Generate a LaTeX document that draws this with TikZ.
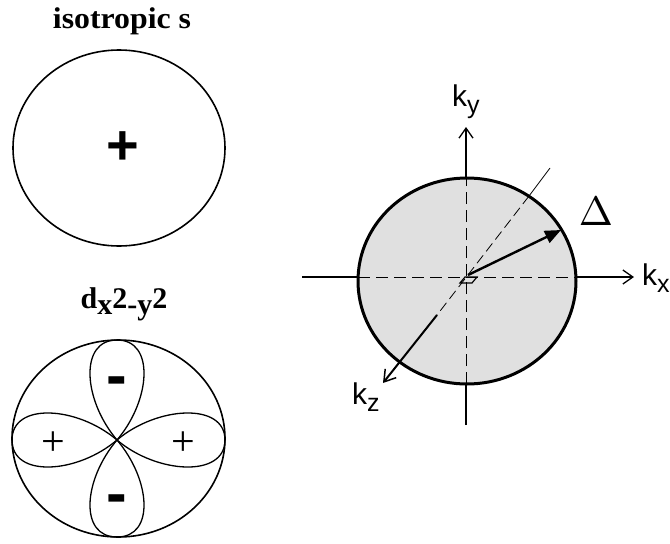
\documentclass[tikz,border=0pt]{standalone}
\usepackage{fontspec}
\setmainfont{Liberation Serif}
\newfontfamily\sansf{Liberation Sans}
\usetikzlibrary{arrows.meta,calc}
\begin{document}
\begin{tikzpicture}[x=1pt,y=-1pt,
  titletext/.style={font=\fontsize{30}{32}\selectfont\bfseries, inner sep=0pt, anchor=base},
  orbit/.style={line width=1.6pt},
  lobe/.style={line width=1.3pt},
  klabel/.style={font=\sansf\fontsize{30}{30}\selectfont, inner sep=0pt, anchor=base west},
  axisline/.style={line width=1.3pt},
  dashpart/.style={line width=0.9pt, dash pattern=on 12pt off 6pt},
  barb/.style={-{Straight Barb[length=10pt,width=14pt,line width=1.3pt]}},
  sgnplus/.style={font=\fontsize{42}{42}\selectfont, inner sep=0pt},
  sgnminus/.style={font=\sansf\bfseries\fontsize{62}{62}\selectfont, inner sep=0pt}
]
\useasboundingbox (0,0) rectangle (670,544);

% ---------- isotropic s ----------
\node[titletext] (iso) at (122,28) {\scalebox{1.06}[1]{isotropic s}};
\draw[orbit] (119,148) ellipse [x radius=106pt, y radius=98pt];
\node[inner sep=0pt, font=\sansf\bfseries\fontsize{56}{56}\selectfont] (splus) at (123,148) {+};

% ---------- d x2-y2 ----------
\node[titletext] (dlab) at (124,308) {d\raisebox{-6pt}{x}2\raisebox{-6pt}{-y}2};
\draw[orbit] (118.5,438.5) ellipse [x radius=106.5pt, y radius=98.5pt];
\begin{scope}[shift={(117,440)}]
  \draw[lobe] (0,0) .. controls (-34,-40) and (-38,-100) .. (0,-100)
                    .. controls (38,-100) and (34,-40) .. (0,0);
  \draw[lobe] (0,0) .. controls (-34,40) and (-38,97) .. (0,97)
                    .. controls (38,97) and (34,40) .. (0,0);
  \draw[lobe] (0,0) .. controls (-40,-34) and (-105,-38) .. (-105,0)
                    .. controls (-105,38) and (-40,34) .. (0,0);
  \draw[lobe] (0,0) .. controls (40,-34) and (108,-38) .. (108,0)
                    .. controls (108,38) and (40,34) .. (0,0);
\end{scope}
\node[sgnminus] (mtop) at (117,387) {-};
\node[sgnminus] (mbot) at (117,505) {-};
\node[sgnplus] (pleft) at (53,444) {+};
\node[sgnplus] (pright) at (183,444) {+};

% ---------- k-space sphere ----------
\fill[black!12] (467,281) ellipse [x radius=109pt, y radius=103pt];
\coordinate (O) at (466,277);
\coordinate (xl) at (302,277);
\coordinate (xcl) at (358,277);
\coordinate (xcr) at (576,277);
\coordinate (xr) at (634,277);
\coordinate (yb) at (466,425);
\coordinate (ycb) at (466,384);
\coordinate (yct) at (466,178);
\coordinate (yt) at (466,127);
\coordinate (dtop) at (550,168);
\coordinate (dct) at (529,196);
\coordinate (zs) at (437,315);
\coordinate (ze) at (383,383);
\coordinate (dtip) at (561,230);

\draw[axisline] (xl) -- (xcl);
\draw[dashpart] (xcl) -- (xcr);
\draw[axisline, barb] (xcr) -- (xr);
\draw[axisline] (yb) -- (ycb);
\draw[dashpart] (ycb) -- (yct);
\draw[axisline, barb] (yct) -- (yt);
\draw[line width=0.8pt] (dtop) -- (dct);
\draw[line width=0.8pt, dash pattern=on 10pt off 5pt] (dct) -- (zs);
\draw[line width=2pt, -{Straight Barb[length=11pt,width=14pt,line width=1.5pt]}] (zs) -- (ze);

\draw[line width=3pt] (467,281) ellipse [x radius=109pt, y radius=103pt];

% small parallelogram at origin
\draw[line width=1.2pt] (460,283) -- (472,283) -- (477,277) -- (465,277) -- cycle;

\draw[line width=2.4pt, -{Triangle[length=16pt,width=13pt]}] (468,275) -- (dtip);

\node[inner sep=0pt] (delta) at (596,211) {\scalebox{4.1}{$\Delta$}};
\node[klabel] (ky) at (452,106) {k\raisebox{-7pt}{\fontsize{25}{25}\selectfont y}};
\node[klabel] (kx) at (642,285) {k\raisebox{-7pt}{\fontsize{25}{25}\selectfont x}};
\node[klabel] (kz) at (352,404) {k\raisebox{-7pt}{\fontsize{25}{25}\selectfont z}};
\end{tikzpicture}
\end{document}
